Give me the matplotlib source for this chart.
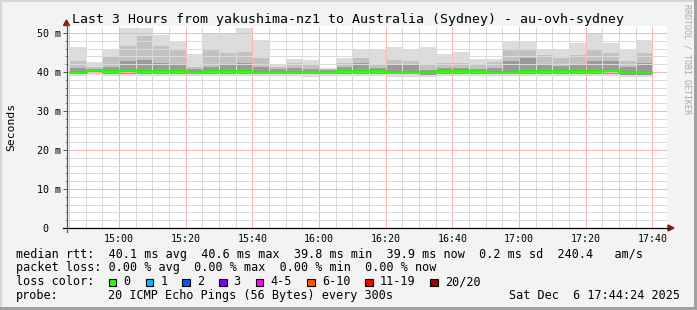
import numpy as np
import matplotlib
matplotlib.use("Agg")
import matplotlib.pyplot as plt
from matplotlib.lines import Line2D
from matplotlib.patches import Polygon, Rectangle
from matplotlib.ticker import MultipleLocator, FixedLocator

# ================= DATA =================
bar_times = ["14:45", "14:50", "14:55", "15:00", "15:05", "15:10", "15:15",
             "15:20", "15:25", "15:30", "15:35", "15:40", "15:45", "15:50",
             "15:55", "16:00", "16:05", "16:10", "16:15", "16:20", "16:25",
             "16:30", "16:35", "16:40", "16:45", "16:50", "16:55", "17:00",
             "17:05", "17:10", "17:15", "17:20", "17:25", "17:30", "17:35"]

# smoke envelope per 5 min step (ms)
smoke_max = [46.3, 42.5, 45.9, 51.4, 51.4, 49.6, 48.0, 44.6, 49.9, 50.1, 51.3, 48.2,
             42.0, 43.3, 43.1, 41.1, 43.5, 45.9, 45.6, 46.4, 45.9, 46.4, 44.6, 45.2,
             43.3, 43.3, 47.8, 48.0, 45.9, 45.6, 47.5, 49.9, 47.5, 45.9, 48.2]
smoke_mid = [42.9, 41.4, 44.1, 46.7, 49.2, 46.7, 45.8, 41.4, 45.6, 44.9, 45.2, 43.6,
             41.2, 42.2, 41.8, 40.7, 42.4, 43.5, 42.0, 43.1, 42.8, 41.8, 42.2, 42.2,
             41.8, 42.6, 45.6, 45.8, 44.4, 43.5, 44.4, 45.6, 44.8, 42.8, 44.8]
smoke_dark = [41.0, 40.8, 41.4, 42.9, 43.1, 42.2, 42.0, 40.7, 41.4, 41.8, 42.2, 41.4,
              40.7, 40.9, 40.8, 40.5, 41.4, 42.4, 40.9, 42.0, 41.8, 40.5, 40.9, 40.9,
              40.7, 40.9, 42.9, 43.5, 42.0, 41.5, 41.8, 42.9, 42.9, 41.4, 42.2]
smoke_low = [39.5, 39.7, 39.6, 39.5, 39.4, 39.5, 39.5, 39.4, 39.5, 39.5, 39.5, 39.5,
             39.6, 39.5, 39.4, 39.6, 39.5, 39.6, 39.6, 39.4, 39.4, 39.3, 39.5, 39.6,
             39.5, 39.5, 39.5, 39.6, 39.6, 39.5, 39.5, 39.5, 39.6, 39.3, 39.3]
smoke_min = [39.0, 39.2, 39.1, 39.0, 38.9, 39.0, 39.0, 38.9, 39.0, 39.0, 39.0, 39.0,
             39.1, 39.0, 38.8, 39.1, 39.0, 39.0, 39.0, 38.8, 38.8, 38.7, 39.0, 39.1,
             39.0, 39.0, 39.0, 39.1, 39.0, 38.9, 38.9, 39.0, 39.1, 38.8, 38.8]
median = [40.1, 40.4, 40.35, 40.4, 40.2, 40.2, 40.2, 40.0, 40.2, 40.2, 40.2, 40.1,
          40.1, 40.1, 40.0, 40.1, 40.2, 40.3, 40.3, 40.1, 40.0, 39.9, 40.2, 40.3,
          40.2, 40.1, 40.1, 40.3, 40.3, 40.25, 40.25, 40.25, 40.6, 39.9, 39.9]

x_ticks = ["15:00", "15:20", "15:40", "16:00", "16:20", "16:40", "17:00", "17:20", "17:40"]
y_ticks = [0, 10, 20, 30, 40, 50]
y_labels = ["0  ", "10 m", "20 m", "30 m", "40 m", "50 m"]
graph_start = "14:44:24"
graph_end = "17:44:24"

title = "Last 3 Hours from yakushima-nz1 to Australia (Sydney) - au-ovh-sydney"
legend_rtt = "median rtt:  40.1 ms avg  40.6 ms max  39.8 ms min  39.9 ms now  0.2 ms sd  240.4   am/s"
legend_loss = "packet loss: 0.00 % avg  0.00 % max  0.00 % min  0.00 % now"
loss_labels = ["0", "1", "2", "3", "4-5", "6-10", "11-19", "20/20"]
loss_colors = ["#26ff00", "#00b8ff", "#0059ff", "#7e00ff", "#ff00ff", "#ff5500", "#ff0000", "#a10000"]
probe_text = "20 ICMP Echo Pings (56 Bytes) every 300s"
stamp = "Sat Dec  6 17:44:24 2025"


def to_min(s):
    parts = [int(p) for p in s.split(":")]
    m = parts[0] * 60 + parts[1]
    if len(parts) > 2:
        m += parts[2] / 60.0
    return m


# ================= FIGURE =================
W, H = 697, 310
MONO = "DejaVu Sans Mono"
fig = plt.figure(figsize=(W / 100, H / 100), dpi=100, facecolor="#f3f3f3")


def fx(x):
    return x / W


def fy(y):
    return 1 - y / H


ax = fig.add_axes([fx(67), fy(228), 600 / W, 202 / H])
ax.set_facecolor("white")
for s in ax.spines.values():
    s.set_visible(False)

x0, x1 = to_min(graph_start), to_min(graph_end)
ax.set_xlim(x0, x1)
ax.set_ylim(0, 202 / 3.9)

starts = np.array([to_min(t) for t in bar_times], dtype=float)
edges = np.append(starts, starts[-1] + 5)
edges[0] = max(edges[0], x0)
lefts = edges[:-1]
widths = np.diff(edges)

smoke_max = np.array(smoke_max)
smoke_mid = np.array(smoke_mid)
smoke_dark = np.array(smoke_dark)
smoke_low = np.array(smoke_low)
smoke_min = np.array(smoke_min)
median = np.array(median)

# smoke layers, light outside -> dark inside
ax.bar(lefts, smoke_max - smoke_min, bottom=smoke_min, width=widths, align="edge",
       color="#dcdcdc", linewidth=0, zorder=1)
ax.bar(lefts, smoke_mid - smoke_low, bottom=smoke_low, width=widths, align="edge",
       color="#c2c2c2", linewidth=0, zorder=1.1)
ax.bar(lefts, smoke_dark - smoke_low, bottom=smoke_low, width=widths, align="edge",
       color="#9a9a9a", linewidth=0, zorder=1.2)
ax.bar(lefts, (median + 0.25) - (median - 0.35), bottom=median - 0.35, width=widths,
       align="edge", color="#555555", linewidth=0, zorder=1.3)

# grid (dotted, rrdtool style)
ax.xaxis.set_major_locator(FixedLocator([to_min(t) for t in x_ticks]))
ax.xaxis.set_minor_locator(MultipleLocator(5))
ax.yaxis.set_major_locator(FixedLocator(y_ticks))
ax.yaxis.set_minor_locator(MultipleLocator(2))
ax.set_axisbelow(False)
ax.grid(which="minor", color="#dadada", linestyle=(0, (1, 1)), linewidth=0.72,
        antialiased=False)
ax.grid(which="major", color="#ffb4b4", linestyle=(0, (1, 1)), linewidth=0.72,
        antialiased=False)

# median line
ax.stairs(median, edges, baseline=None, color="#26ff00", linewidth=2.0, zorder=4)

ax.set_xticklabels(x_ticks, fontfamily=MONO, fontsize=7.2)
ax.set_yticklabels(y_labels, fontfamily=MONO, fontsize=7.2)
ax.tick_params(axis="x", which="both", length=0, pad=4.5, colors="#000000")
ax.tick_params(axis="y", which="major", direction="out", length=3, width=0.7,
               color="#555555", pad=1.5)
ax.tick_params(axis="y", which="minor", direction="out", length=1.5, width=0.7,
               color="#888888")

# axis lines + arrows
fig.add_artist(Line2D([fx(62.5), fx(669)], [fy(228), fy(228)], color="#000000", lw=0.9))
fig.add_artist(Line2D([fx(66.5), fx(66.5)], [fy(232), fy(24)], color="#555555", lw=0.9))
fig.add_artist(Polygon([[fx(668), fy(225)], [fx(668), fy(231)], [fx(674), fy(228)]],
                       closed=True, color="#8b1a1a"))
fig.add_artist(Polygon([[fx(63.5), fy(25.5)], [fx(69.5), fy(25.5)], [fx(66.5), fy(20)]],
                       closed=True, color="#8b1a1a"))

# title and labels
fig.text(fx(348), fy(23.3), title, family=MONO, fontsize=9.5, ha="center", va="baseline")
fig.text(fx(11), fy(127), "Seconds", family=MONO, fontsize=8.2, rotation=90,
         ha="center", va="center")
fig.text(fx(687), fy(4), "RRDTOOL / TOBI OETIKER", family=MONO, fontsize=6.0,
         rotation=270, ha="center", va="top", color="#a8a8a8")

# legend block
CW = 7.1
LX = 16
fig.text(fx(LX), fy(257.7), legend_rtt, family=MONO, fontsize=8.5, va="baseline")
fig.text(fx(LX), fy(271.5), legend_loss, family=MONO, fontsize=8.5, va="baseline")
fig.text(fx(LX), fy(285.4), "loss color:", family=MONO, fontsize=8.5, va="baseline")
box_x = [108.7, 145.7, 182.3, 219.0, 255.7, 307.3, 365.3, 430.3]
for bx, lab, col in zip(box_x, loss_labels, loss_colors):
    fig.add_artist(Rectangle((fx(bx), fy(286)), 7.5 / W, 7.5 / H, facecolor=col,
                             edgecolor="black", linewidth=0.8))
    fig.text(fx(bx + 14.5), fy(285.4), lab, family=MONO, fontsize=8.5, va="baseline")
fig.text(fx(LX), fy(299.3), "probe:", family=MONO, fontsize=8.5, va="baseline")
fig.text(fx(LX + 13 * CW), fy(299.3), probe_text, family=MONO, fontsize=8.5, va="baseline")
fig.text(fx(680), fy(299.3), stamp, family=MONO, fontsize=8.5, va="baseline", ha="right")

# 3d-ish frame
fig.add_artist(Rectangle((0, fy(2)), 1, 2 / H, color="#d6d6d6", lw=0))
fig.add_artist(Rectangle((0, 0), 2 / W, 1, color="#d6d6d6", lw=0))
fig.add_artist(Rectangle((fx(693.5), 0), 3.5 / W, 1, color="#a0a0a0", lw=0))
fig.add_artist(Rectangle((0, 0), 1, 3.3 / H, color="#a0a0a0", lw=0))

plt.savefig("out.png", dpi=100, facecolor=fig.get_facecolor())
plt.close()
